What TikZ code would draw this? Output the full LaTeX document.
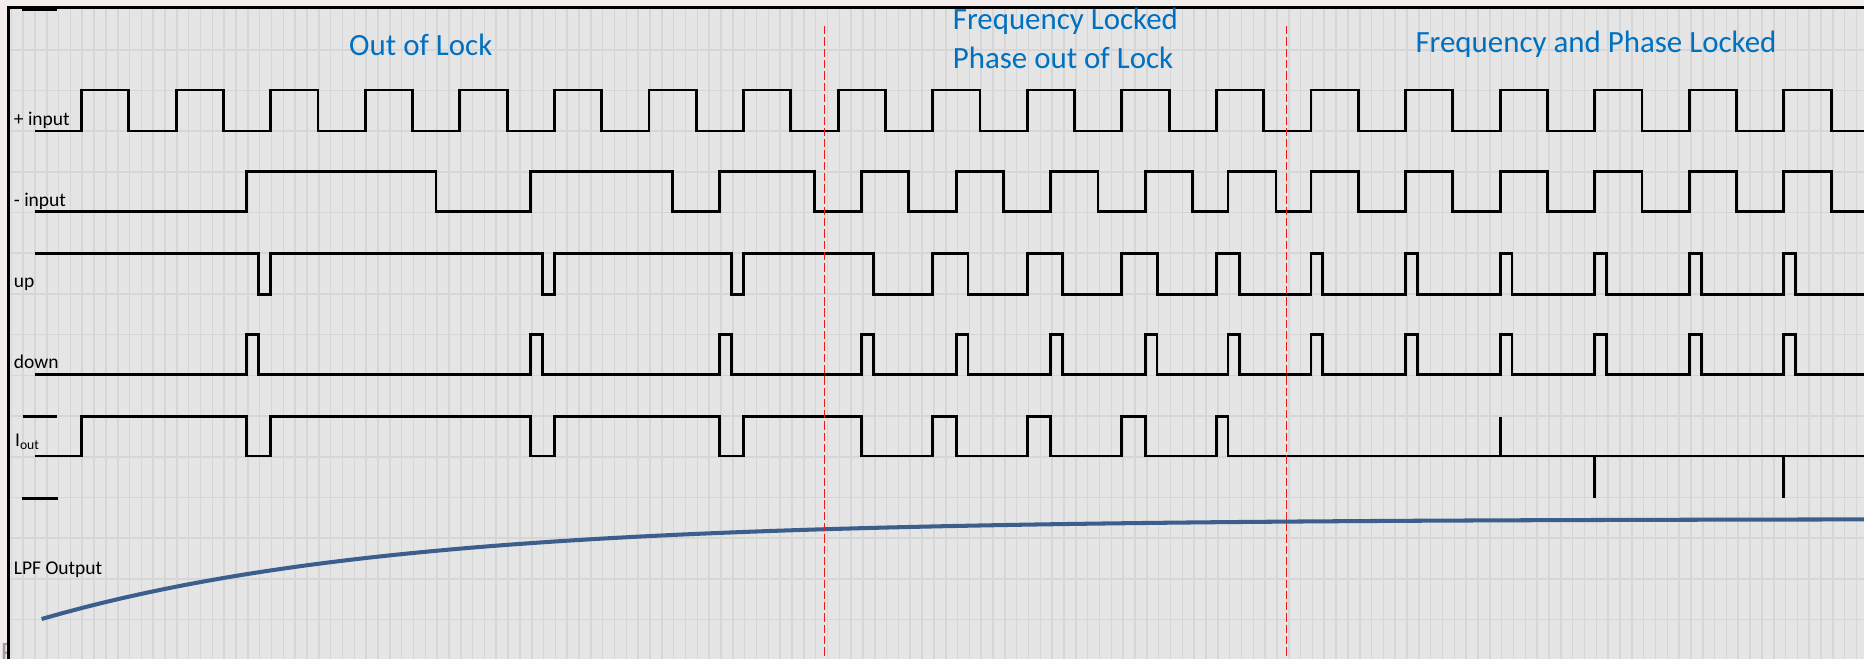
\documentclass[tikz,border=0pt]{standalone}
\usepackage{fontspec}
\setmainfont{Carlito}
\usepackage{tikz}
\definecolor{slide}{RGB}{243,237,236}
\definecolor{chart}{RGB}{229,229,229}
\definecolor{gridc}{RGB}{214,214,214}
\definecolor{titleblue}{RGB}{0,112,192}
\definecolor{lpfblue}{RGB}{59,94,140}
\definecolor{marker}{RGB}{235,25,25}
\tikzstyle{wave} = [line width=2.4pt, black, line join=miter]
\tikzstyle{gridline} = [line width=1.3pt, gridc]
\tikzstyle{lockline} = [line width=1.2pt, marker, dash pattern=on 7pt off 2.5pt]
\tikzstyle{siglabel} = [anchor=base west, inner sep=0pt, font=\fontsize{16.4}{19}\selectfont]
\tikzstyle{regionlabel} = [inner sep=0pt, text=titleblue, font=\fontsize{26}{32.3}\selectfont]

\begin{document}
\begin{tikzpicture}[x=1pt, y=-1pt]
        \useasboundingbox (0,0) rectangle (1568,554);
        \fill[slide] (0,0) rectangle (1568,554);
        \node (SL) [anchor=base west, inner sep=0pt, text=gray!75, font=\fontsize{25}{30}\selectfont] at (0.5,557) {F};
        \fill[chart] (7,6) rectangle (1568,554);

        % grid
        \foreach \i in {0,...,156}
            \draw[gridline] ({9.5+9.95*\i},7) -- ({9.5+9.95*\i},554);
        \foreach \j in {1,...,15}
            \draw[gridline] (7,{7.6+34.24*\j}) -- (1568,{7.6+34.24*\j});
        \draw[line width=2.2pt] (7,554) -- (7,6.2) -- (1568,6.2);
        \draw[line width=2.2pt] (18.2,7.9) -- (47.7,7.9);

        \node (PI) [siglabel] at (11.5,105.2) {+ input};
        \node (MI) [siglabel] at (11.5,173.3) {- input};
        \node (UP) [siglabel] at (11.5,241.7) {up};
        \node (DN) [siglabel] at (11.5,309.8) {down};
        \node (IO) [siglabel] at (12.5,375.7) {I\textsubscript{out}};
        \node (LPF) [siglabel] at (11.5,482.9) {LPF Output};

        \node (OL) [regionlabel, anchor=base] at (354,46.3) {Out of Lock};
        \node (FL) [regionlabel, anchor=base west, align=left] at (801.3,57.5) {Frequency Locked\\Phase out of Lock};
        \node (FP) [regionlabel, anchor=base] at (1342.5,44.3) {Frequency and Phase Locked};

        % + input
        \draw[wave] (29.5,110.2) \foreach \k in {0,...,18} { -| ({68.6+79.55*\k},75.7) -| ({108.4+79.55*\k},110.2) } -- (1568,110.2);
        % - input
        \draw[wave] (29.5,178.1) -| (207.5,144.4) -| (366.7,178.1) -| (446.1,144.4) -| (565.5,178.1)
            -| (605.2,144.4) -| (685,178.1) -| (724.6,144.4) -| (764.3,178.1) -| (804.3,144.4)
            -| (844,178.1) -| (884,144.4) -| (923.6,178.1) -| (963.5,144.4) -| (1003,178.1)
            -| (1033,144.4) -| (1073.4,178.1)
            \foreach \k in {13,...,18} { -| ({68.6+79.55*\k},144.4) -| ({108.4+79.55*\k},178.1) } -- (1568,178.1);
        % up
        \draw[wave] (29.5,213.1) -| (217.3,247.6) -| (227.7,213.1) -| (456.1,247.6) -| (466.35,213.1)
            -| (615.2,247.6) -| (625.45,213.1) -| (734.7,247.6) -| (784.55,213.1) -| (814.3,247.6)
            -| (864.1,213.1) -| (893.9,247.6) -| (943.65,213.1) -| (973.4,247.6) -| (1023.2,213.1)
            -| (1043,247.6)
            \foreach \k in {13,...,18} { -| ({68.6+79.55*\k},213.1) -| ({78.6+79.55*\k},247.6) } -- (1568,247.6);
        % down
        \draw[wave] (29.5,314.9) -| (207.3,281.2) -| (217.3,314.9) -| (446.1,281.2) -| (456.1,314.9)
            -| (605.2,281.2) -| (615.2,314.9) -| (724.6,281.2) -| (734.7,314.9) -| (804.3,281.2)
            -| (814.3,314.9) -| (883.6,281.2) -| (893.7,314.9) -| (963.3,281.2) -| (973.3,314.9)
            -| (1033,281.2) -| (1042.9,314.9)
            \foreach \k in {13,...,18} { -| ({68.6+79.55*\k},281.2) -| ({78.6+79.55*\k},314.9) } -- (1568,314.9);
        % Iout
        \draw[wave] (19,350.5) -- (47.7,350.5);
        \draw[wave] (18.2,419.2) -- (49,419.2);
        \draw[wave] (29.5,383.6) -| (68.6,350.5) -| (207.3,383.6) -| (227.7,350.5) -| (446.1,383.6)
            -| (466.35,350.5) -| (605.2,383.6) -| (625.45,350.5) -| (724.8,383.6) -| (784.55,350.5)
            -| (804.3,383.6) -| (864.1,350.5) -| (883.6,383.6) -| (943.65,350.5) -| (963.5,383.6)
            -| (1023.2,350.5) -| (1033,383.6) -- (1568,383.6);
        \draw[wave] (1261.85,383.6) -- (1261.85,350.5);
        \draw[wave] (1341.4,383.6) -- (1341.4,419.2);
        \draw[wave] (1500.5,383.6) -- (1500.5,419.2);

        % LPF output
        \draw[lpfblue, line width=3.4pt] plot[domain=35:1568, samples=90] (\x, {436.5+84.2*exp(-(\x-35)/290)});

        \draw[lockline] (693.7,22) -- (693.7,554);
        \draw[lockline] (1082.2,22) -- (1082.2,554);
\end{tikzpicture}
\end{document}
